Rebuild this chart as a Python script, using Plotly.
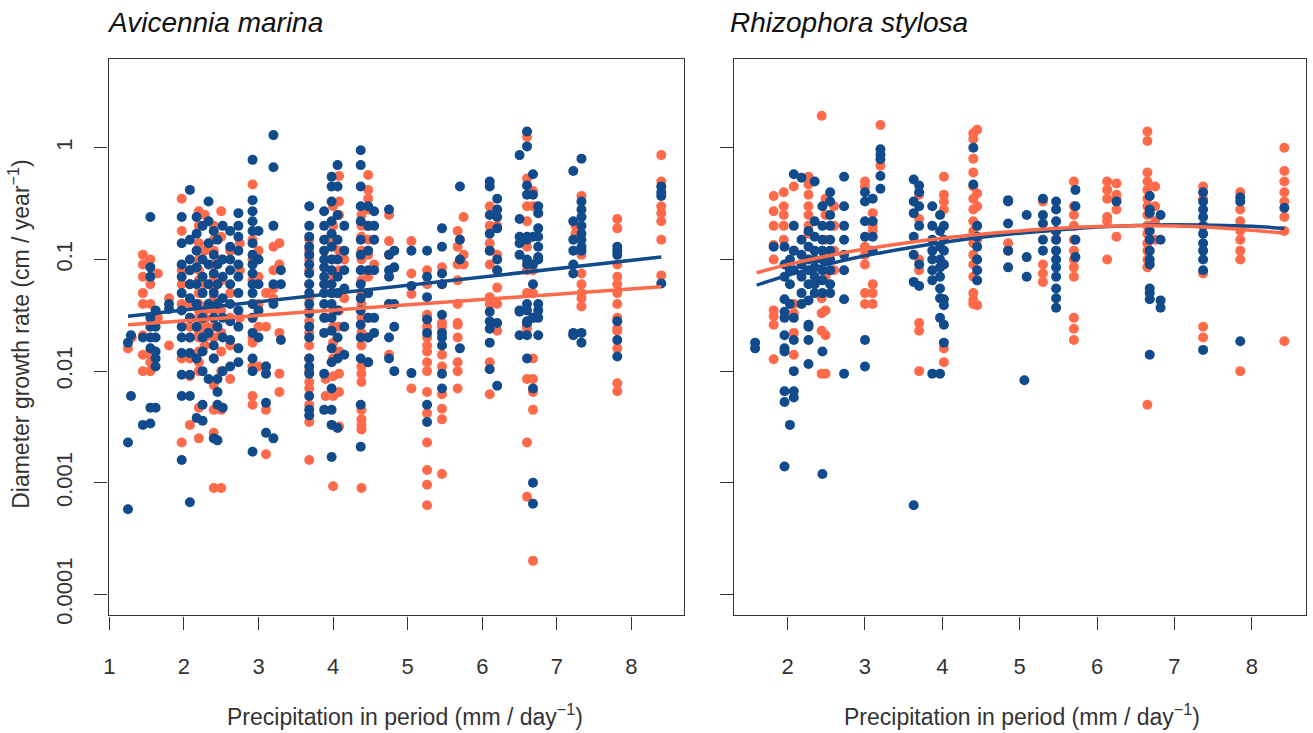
import plotly.graph_objects as go

# colours of the two groups
BLUE = "#124B8B"
ORANGE = "#FF6A4A"

# ---- Avicennia marina : (precipitation, [growth rates]) per column ----
am_blue_cols = [
    (1.25, [0.00058, 0.0023, 0.018]),
    (1.29, [0.006, 0.021]),
    (1.45, [0.0033, 0.02]),
    (1.55, [0.24, 0.085, 0.07, 0.03, 0.025, 0.02, 0.016, 0.0047, 0.0034]),
    (1.62, [0.035, 0.025, 0.02, 0.015, 0.013, 0.011, 0.0047]),
    (1.8, [0.036, 0.04]),
    (1.97, [0.24, 0.14, 0.09, 0.07, 0.05, 0.035, 0.025, 0.02, 0.0145, 0.0093, 0.006, 0.0016]),
    (2.08, [0.42, 0.15, 0.1, 0.08, 0.06, 0.045, 0.03, 0.02, 0.0145, 0.0093, 0.006, 0.00067]),
    (2.17, [0.24, 0.17, 0.12, 0.085, 0.06, 0.04, 0.025, 0.013, 0.0038]),
    (2.25, [0.2, 0.1, 0.07, 0.05, 0.03, 0.02, 0.015, 0.01, 0.005, 0.0036]),
    (2.33, [0.33, 0.22, 0.14, 0.09, 0.06, 0.04, 0.022, 0.0085]),
    (2.4, [0.18, 0.11, 0.075, 0.05, 0.03, 0.017, 0.013, 0.0025]),
    (2.45, [0.15, 0.09, 0.06, 0.04, 0.025, 0.0085, 0.0065, 0.0024, 0.005]),
    (2.52, [0.2, 0.1, 0.07, 0.045, 0.03, 0.02, 0.01, 0.0047]),
    (2.62, [0.18, 0.13, 0.1, 0.08, 0.06, 0.04, 0.028, 0.019, 0.011]),
    (2.73, [0.26, 0.2, 0.16, 0.12, 0.09, 0.07, 0.05, 0.035, 0.025, 0.016, 0.012]),
    (2.92, [0.78, 0.34, 0.27, 0.22, 0.18, 0.14, 0.11, 0.09, 0.075, 0.06, 0.05, 0.04, 0.03,
            0.022, 0.013, 0.01, 0.0019]),
    (3.0, [0.18, 0.1, 0.06, 0.035, 0.02]),
    (3.1, [0.011, 0.0095, 0.0052, 0.0028]),
    (3.2, [1.3, 0.67, 0.2, 0.06, 0.04, 0.0025]),
    (3.3, [0.08, 0.06, 0.019]),
    (3.68, [0.3, 0.2, 0.16, 0.13, 0.11, 0.09, 0.075, 0.06, 0.05, 0.04, 0.033, 0.025, 0.02,
            0.013, 0.011, 0.0095, 0.006, 0.0045, 0.004]),
    (3.88, [0.27, 0.2, 0.15, 0.12, 0.1, 0.085, 0.07, 0.06, 0.05, 0.04, 0.03, 0.022, 0.0095, 0.0045]),
    (3.98, [0.55, 0.45, 0.33, 0.22, 0.17, 0.13, 0.1, 0.08, 0.06, 0.05, 0.04, 0.03, 0.023,
            0.016, 0.012, 0.007, 0.0045, 0.0033, 0.0017]),
    (4.06, [0.7, 0.45, 0.25, 0.15, 0.1, 0.07, 0.05, 0.035, 0.02, 0.013, 0.0031]),
    (4.15, [0.2, 0.12, 0.08, 0.055, 0.025, 0.014]),
    (4.37, [0.95, 0.7, 0.45, 0.3, 0.22, 0.15, 0.11, 0.08, 0.06, 0.045, 0.035, 0.026, 0.02,
            0.013, 0.005, 0.0021]),
    (4.47, [0.3, 0.2, 0.12, 0.08, 0.05, 0.03, 0.02, 0.012]),
    (4.55, [0.27, 0.2, 0.15, 0.08, 0.03, 0.022]),
    (4.75, [0.28, 0.11, 0.08, 0.07, 0.04, 0.02, 0.013]),
    (4.82, [0.12, 0.085, 0.04, 0.025, 0.01]),
    (5.05, [0.12, 0.058, 0.0096]),
    (5.26, [0.12, 0.07, 0.046, 0.029, 0.022, 0.005, 0.0035]),
    (5.46, [0.19, 0.13, 0.075, 0.06, 0.032, 0.022, 0.02, 0.017, 0.0095, 0.007]),
    (5.7, [0.45, 0.15, 0.1, 0.016]),
    (6.1, [0.5, 0.45, 0.25, 0.17, 0.12, 0.034, 0.028, 0.024, 0.018, 0.0104]),
    (6.2, [0.35, 0.28, 0.24, 0.19, 0.1, 0.08, 0.027, 0.0074]),
    (6.5, [0.86, 0.23, 0.16, 0.14, 0.11, 0.034, 0.035, 0.021]),
    (6.6, [1.4, 1.03, 0.46, 0.38, 0.16, 0.15, 0.1, 0.09, 0.035, 0.027, 0.04, 0.028, 0.021, 0.013]),
    (6.68, [0.58, 0.38, 0.16, 0.09, 0.06, 0.03, 0.03, 0.007, 0.001, 0.00065]),
    (6.75, [0.3, 0.26, 0.19, 0.16, 0.13, 0.105, 0.1, 0.035, 0.04, 0.021, 0.03]),
    (7.22, [0.62, 0.22, 0.15, 0.12, 0.09, 0.075, 0.022, 0.021]),
    (7.33, [0.8, 0.33, 0.28, 0.24, 0.2, 0.17, 0.15, 0.13, 0.12, 0.022, 0.018]),
    (7.81, [0.13, 0.12, 0.11, 0.028, 0.019, 0.0135]),
    (8.4, [0.45, 0.4, 0.37, 0.061]),
]

am_orange_cols = [
    (1.25, [0.016]),
    (1.3, [0.02]),
    (1.45, [0.11, 0.09, 0.07, 0.05, 0.04, 0.021, 0.014, 0.01]),
    (1.55, [0.1, 0.06, 0.04, 0.014, 0.012, 0.01]),
    (1.65, [0.075, 0.03]),
    (1.8, [0.045, 0.017]),
    (1.97, [0.35, 0.18, 0.08, 0.06, 0.04, 0.013, 0.0023]),
    (2.08, [0.08, 0.06, 0.04, 0.03, 0.025, 0.02, 0.013, 0.009, 0.0033]),
    (2.2, [0.27, 0.2, 0.14, 0.1, 0.08, 0.065, 0.05, 0.04, 0.035, 0.03, 0.027, 0.025, 0.022,
           0.02, 0.015, 0.012, 0.01, 0.0047, 0.0025]),
    (2.28, [0.25, 0.12, 0.06, 0.035, 0.03, 0.026, 0.024, 0.022, 0.02, 0.017]),
    (2.4, [0.2, 0.15, 0.12, 0.09, 0.07, 0.055, 0.045, 0.035, 0.025, 0.02, 0.013, 0.0075,
           0.0045, 0.0028, 0.0009]),
    (2.5, [0.27, 0.16, 0.1, 0.065, 0.035, 0.022, 0.015, 0.01, 0.0045, 0.0009]),
    (2.62, [0.12, 0.05, 0.03, 0.017, 0.0085]),
    (2.75, [0.14, 0.08, 0.03]),
    (2.92, [0.47, 0.15, 0.1, 0.065, 0.04, 0.03, 0.02, 0.018, 0.011, 0.006, 0.005]),
    (3.0, [0.12, 0.07, 0.04, 0.025, 0.011]),
    (3.1, [0.05, 0.025, 0.011, 0.0045, 0.0018]),
    (3.2, [0.13, 0.08, 0.055, 0.045]),
    (3.28, [0.14, 0.09, 0.022, 0.0095, 0.0065]),
    (3.68, [0.15, 0.12, 0.1, 0.08, 0.06, 0.045, 0.035, 0.028, 0.022, 0.017, 0.013, 0.01,
            0.008, 0.007, 0.005, 0.0035, 0.0016]),
    (3.9, [0.15, 0.1, 0.06, 0.03, 0.0085, 0.006]),
    (4.0, [0.3, 0.2, 0.14, 0.1, 0.07, 0.05, 0.035, 0.025, 0.018, 0.013, 0.009, 0.006, 0.00093]),
    (4.08, [0.56, 0.33, 0.25, 0.12, 0.08, 0.05, 0.035, 0.025, 0.015, 0.0095, 0.0065, 0.0032]),
    (4.15, [0.1, 0.045]),
    (4.38, [0.25, 0.2, 0.16, 0.12, 0.1, 0.08, 0.065, 0.05, 0.04, 0.03, 0.022, 0.017, 0.011,
            0.0095, 0.008, 0.0045, 0.0037, 0.0033, 0.003, 0.0009]),
    (4.47, [0.57, 0.42, 0.35, 0.28, 0.2, 0.15, 0.11, 0.07, 0.05, 0.03, 0.02, 0.012]),
    (4.55, [0.15, 0.09]),
    (4.75, [0.25, 0.146, 0.11, 0.04, 0.014]),
    (5.05, [0.146, 0.075, 0.049, 0.007]),
    (5.26, [0.08, 0.06, 0.032, 0.03, 0.025, 0.02, 0.017, 0.015, 0.012, 0.01, 0.0065, 0.0042,
            0.0023, 0.0013, 0.00096, 0.00063]),
    (5.46, [0.085, 0.06, 0.027, 0.025, 0.014, 0.011, 0.0062, 0.0046, 0.0037, 0.0012]),
    (5.67, [0.18, 0.13, 0.09, 0.065, 0.04, 0.027, 0.026, 0.02, 0.012, 0.01, 0.007]),
    (5.75, [0.24, 0.11, 0.09]),
    (6.1, [0.3, 0.2, 0.14, 0.12, 0.09, 0.046, 0.04, 0.012, 0.0062]),
    (6.2, [0.2, 0.11, 0.08, 0.056, 0.04, 0.023]),
    (6.6, [1.25, 0.53, 0.3, 0.22, 0.13, 0.08, 0.05, 0.024, 0.026, 0.0085, 0.0023, 0.00075]),
    (6.68, [0.41, 0.3, 0.08, 0.05, 0.013, 0.0085, 0.0065, 0.0045, 0.0002]),
    (7.25, [0.2, 0.17]),
    (7.33, [0.37, 0.11, 0.075, 0.06, 0.05, 0.045, 0.038]),
    (7.81, [0.23, 0.19, 0.09, 0.07, 0.06, 0.05, 0.04, 0.03, 0.024, 0.023, 0.016, 0.0078, 0.0066]),
    (8.4, [0.86, 0.5, 0.3, 0.26, 0.22, 0.15, 0.072]),
]

# ---- Rhizophora stylosa ----
rs_blue_cols = [
    (1.58, [0.018, 0.016]),
    (1.82, [0.13]),
    (1.96, [0.13, 0.09, 0.07, 0.044, 0.034, 0.03, 0.021, 0.016, 0.015, 0.0066, 0.0053, 0.0014]),
    (2.03, [0.1, 0.08, 0.06, 0.04, 0.0033]),
    (2.08, [0.58, 0.2, 0.12, 0.08, 0.03, 0.019, 0.01, 0.0066, 0.0058]),
    (2.18, [0.54, 0.15, 0.11, 0.09, 0.07, 0.05, 0.04]),
    (2.27, [0.18, 0.13, 0.1, 0.08, 0.06, 0.043, 0.026, 0.025, 0.019, 0.0116]),
    (2.35, [0.5, 0.22, 0.16, 0.12, 0.1, 0.085, 0.07, 0.06, 0.05]),
    (2.45, [0.3, 0.2, 0.15, 0.12, 0.1, 0.08, 0.065, 0.05, 0.015, 0.0012]),
    (2.55, [0.4, 0.33, 0.25, 0.2, 0.15, 0.12, 0.1, 0.08, 0.06, 0.05]),
    (2.73, [0.55, 0.3, 0.2, 0.15, 0.11, 0.08, 0.044, 0.0095]),
    (3.0, [0.4, 0.33, 0.22, 0.16, 0.019, 0.011]),
    (3.1, [0.35, 0.22, 0.16, 0.12]),
    (3.2, [0.97, 0.87, 0.79, 0.56, 0.43]),
    (3.63, [0.52, 0.33, 0.26, 0.16, 0.11, 0.063, 0.00063]),
    (3.7, [0.46, 0.4, 0.3, 0.2, 0.09, 0.058]),
    (3.87, [0.3, 0.2, 0.15, 0.12, 0.1, 0.08, 0.065, 0.0095]),
    (3.97, [0.25, 0.18, 0.13, 0.1, 0.085, 0.07, 0.055, 0.045, 0.03, 0.0095]),
    (4.02, [0.2, 0.15, 0.12, 0.09, 0.044, 0.039, 0.026, 0.018]),
    (4.4, [1.0, 0.47]),
    (4.45, [0.2, 0.16, 0.13, 0.1, 0.08, 0.065]),
    (4.85, [0.34, 0.33, 0.21, 0.12, 0.085]),
    (5.06, [0.0083]),
    (5.09, [0.25, 0.105, 0.07]),
    (5.3, [0.35, 0.25, 0.21, 0.15, 0.12]),
    (5.47, [0.33, 0.28, 0.22, 0.18, 0.15, 0.12, 0.1, 0.085, 0.07, 0.055, 0.045, 0.037]),
    (5.72, [0.42, 0.3, 0.15, 0.105]),
    (6.25, [0.33]),
    (6.68, [0.37, 0.28, 0.26, 0.18, 0.15, 0.12, 0.1, 0.09, 0.055, 0.05, 0.044, 0.014]),
    (6.82, [0.25, 0.15, 0.043, 0.037]),
    (7.37, [0.4, 0.33, 0.28, 0.24, 0.2, 0.17, 0.14, 0.12, 0.1, 0.08, 0.0155]),
    (7.85, [0.36, 0.33, 0.0185]),
    (8.42, [0.29]),
]

rs_orange_cols = [
    (1.82, [0.37, 0.27, 0.2, 0.135, 0.1, 0.035, 0.031, 0.026, 0.0128]),
    (1.95, [0.4, 0.3, 0.25, 0.2, 0.15]),
    (2.08, [0.45, 0.12, 0.04, 0.033, 0.022, 0.014]),
    (2.27, [0.55, 0.47, 0.38, 0.3, 0.25, 0.2, 0.17]),
    (2.44, [1.94, 0.045, 0.033, 0.023, 0.0095]),
    (2.49, [0.35, 0.25, 0.15, 0.1, 0.07, 0.035, 0.021, 0.0095]),
    (2.6, [0.3, 0.2, 0.12, 0.08]),
    (3.0, [0.5, 0.45, 0.13, 0.11, 0.09, 0.05, 0.04]),
    (3.1, [0.26, 0.2, 0.18, 0.06, 0.05, 0.04]),
    (3.2, [1.6, 0.69]),
    (3.7, [0.38, 0.23, 0.1, 0.08, 0.027, 0.023, 0.01]),
    (4.02, [0.55, 0.38, 0.33, 0.28, 0.09, 0.016, 0.012]),
    (4.4, [1.35, 1.2, 0.8, 0.6, 0.45, 0.35, 0.28, 0.22, 0.18, 0.14, 0.11, 0.09, 0.07, 0.05,
           0.043, 0.04]),
    (4.45, [1.45, 0.39, 0.3, 0.15, 0.039]),
    (4.85, [0.14, 0.12]),
    (5.3, [0.33, 0.09, 0.075, 0.063]),
    (5.47, [0.18, 0.15]),
    (5.7, [0.5, 0.3, 0.25, 0.2, 0.15, 0.12, 0.1, 0.085, 0.07, 0.03, 0.024, 0.019]),
    (6.13, [0.5, 0.42, 0.35, 0.24, 0.22, 0.1]),
    (6.25, [0.48, 0.38, 0.35, 0.28, 0.16]),
    (6.65, [1.4, 1.15, 0.6, 0.5, 0.42, 0.35, 0.3, 0.25, 0.2, 0.17, 0.14, 0.12, 0.1, 0.085, 0.005]),
    (6.75, [0.45, 0.3, 0.22, 0.15]),
    (7.37, [0.45, 0.35, 0.075, 0.025, 0.02]),
    (7.85, [0.4, 0.28, 0.22, 0.18, 0.15, 0.12, 0.1, 0.01]),
    (8.42, [1.0, 0.62, 0.5, 0.4, 0.33, 0.24, 0.18, 0.0185]),
]

# fitted lines
am_fit_x = [1.25, 8.4]
am_blue_fit = [0.031, 0.105]
am_orange_fit = [0.026, 0.057]

rs_fit_x = [1.6, 2.0, 2.5, 3.0, 3.5, 4.0, 4.5, 5.0, 5.5, 6.0, 6.5, 7.0, 7.5, 8.0, 8.42]
rs_blue_fit = [0.059, 0.072, 0.09, 0.108, 0.125, 0.142, 0.158, 0.172, 0.184, 0.195, 0.202,
               0.205, 0.203, 0.198, 0.19]
rs_orange_fit = [0.076, 0.09, 0.107, 0.124, 0.14, 0.155, 0.168, 0.18, 0.19, 0.197, 0.2,
                 0.199, 0.193, 0.183, 0.172]

y_ticks = [0.0001, 0.001, 0.01, 0.1, 1]
y_tick_text = ["0.0001", "0.001", "0.01", "0.1", "1"]
am_x_ticks = [1, 2, 3, 4, 5, 6, 7, 8]
rs_x_ticks = [2, 3, 4, 5, 6, 7, 8]


def flatten(cols):
    xs, ys = [], []
    for x, vals in cols:
        for v in vals:
            xs.append(x)
            ys.append(v)
    return xs, ys


FONT = "Liberation Sans, Arial, sans-serif"
W, H = 1313, 733

fig = go.Figure()

for cols, color, xa, ya in [
    (am_orange_cols, ORANGE, "x", "y"),
    (am_blue_cols, BLUE, "x", "y"),
    (rs_orange_cols, ORANGE, "x2", "y2"),
    (rs_blue_cols, BLUE, "x2", "y2"),
]:
    xs, ys = flatten(cols)
    fig.add_trace(go.Scatter(x=xs, y=ys, mode="markers", xaxis=xa, yaxis=ya,
                             marker=dict(size=10, color=color, line=dict(width=0)),
                             showlegend=False, hoverinfo="skip"))

fig.add_trace(go.Scatter(x=am_fit_x, y=am_blue_fit, mode="lines", xaxis="x", yaxis="y",
                         line=dict(color=BLUE, width=3.5), showlegend=False))
fig.add_trace(go.Scatter(x=am_fit_x, y=am_orange_fit, mode="lines", xaxis="x", yaxis="y",
                         line=dict(color=ORANGE, width=3.5), showlegend=False))
fig.add_trace(go.Scatter(x=rs_fit_x, y=rs_blue_fit, mode="lines", xaxis="x2", yaxis="y2",
                         line=dict(color=BLUE, width=3.5, shape="spline"), showlegend=False))
fig.add_trace(go.Scatter(x=rs_fit_x, y=rs_orange_fit, mode="lines", xaxis="x2", yaxis="y2",
                         line=dict(color=ORANGE, width=3.5, shape="spline"), showlegend=False))

axis_common = dict(showgrid=False, zeroline=False, showline=True, mirror=True,
                   linecolor="#333", linewidth=1.3, ticks="outside", ticklen=13,
                   tickwidth=1.3, tickcolor="#333",
                   tickfont=dict(family=FONT, size=22, color="#333"))

ydom = [(H - 623) / H, (H - 60) / H]
fig.update_layout(
    width=W, height=H, margin=dict(l=0, r=0, t=0, b=0),
    plot_bgcolor="white", paper_bgcolor="white",
    xaxis=dict(domain=[104 / W, 682 / W], range=[0.99, 8.71], tickvals=am_x_ticks,
               anchor="y", ticklabelstandoff=18, **axis_common),
    xaxis2=dict(domain=[732 / W, 1306 / W], range=[1.31, 8.70], tickvals=rs_x_ticks,
                anchor="y2", ticklabelstandoff=18, **axis_common),
    yaxis=dict(domain=ydom, type="log", range=[-4.187, 0.793], tickvals=y_ticks,
               ticktext=y_tick_text, tickangle=-90, anchor="x", ticklabelstandoff=14,
               **axis_common),
    yaxis2=dict(domain=ydom, type="log", range=[-4.187, 0.793], tickvals=y_ticks,
                showticklabels=False, anchor="x2", **axis_common),
)

title_font = dict(family=FONT, size=28, color="#111")
label_font = dict(family=FONT, size=23, color="#333")
fig.add_annotation(text="<i>Avicennia marina</i>", x=100 / W, y=(H - 23) / H,
                   xref="paper", yref="paper", xanchor="left", yanchor="middle",
                   showarrow=False, font=title_font)
fig.add_annotation(text="<i>Rhizophora stylosa</i>", x=726 / W, y=(H - 23) / H,
                   xref="paper", yref="paper", xanchor="left", yanchor="middle",
                   showarrow=False, font=title_font)
fig.add_annotation(text="Diameter growth rate (cm / year<sup>−1</sup>)", x=14 / W,
                   y=(H - 338) / H, xref="paper", yref="paper", xanchor="center",
                   yanchor="middle", textangle=-90, showarrow=False, font=label_font)
for cx in [402, 1021]:
    fig.add_annotation(text="Precipitation in period (mm / day<sup>−1</sup>)", x=cx / W,
                       y=(H - 724) / H, xref="paper", yref="paper", xanchor="center",
                       yanchor="middle", showarrow=False, font=label_font)

# the page's default body margin would shift the figure; remove it
fig.write_html("out.html", config={"displayModeBar": False},
               post_script="document.body.style.margin='0';"
                           "document.body.style.overflow='hidden';")
